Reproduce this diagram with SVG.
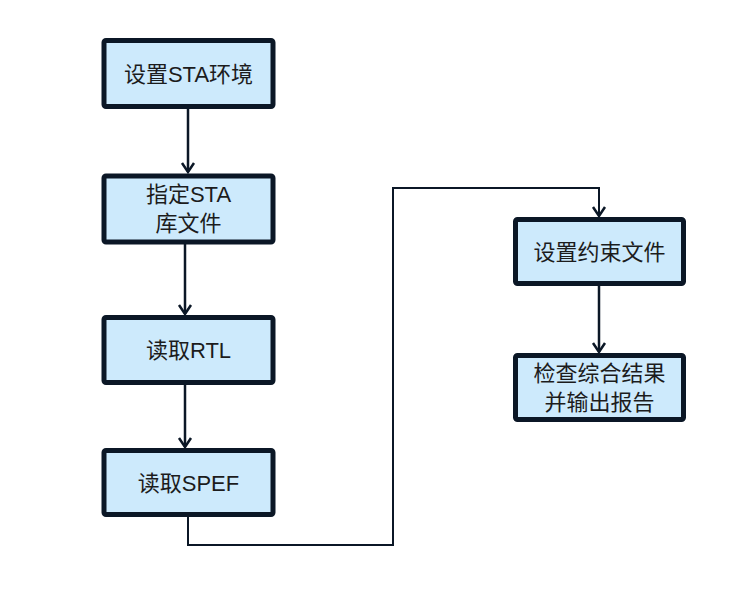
<svg xmlns="http://www.w3.org/2000/svg" width="740" height="610" viewBox="0 0 740 610">
<defs>
<style>
.node rect{fill:#cdeafc;stroke:#0b1726;stroke-width:5}
.node text{font-family:"Liberation Sans","Noto Sans CJK SC",sans-serif;font-size:22px;fill:#1c1c1c;text-anchor:middle}
.conn{fill:none;stroke:#0b1726;stroke-width:2.5}
.conn.thin{stroke-width:2}
</style>
<marker id="arr" viewBox="-1 -8 12 16" markerWidth="12" markerHeight="16" refX="9" refY="0" orient="auto" markerUnits="userSpaceOnUse">
<path d="M0,-6 L9,0 L0,6" fill="none" stroke="#0b1726" stroke-width="2.5"/>
</marker>
</defs>
<rect width="740" height="610" fill="#ffffff"/>
<g id="connectors">
<line class="conn" x1="188" y1="109" x2="188" y2="172" marker-end="url(#arr)"/>
<line class="conn" x1="185" y1="244" x2="185" y2="314" marker-end="url(#arr)"/>
<line class="conn" x1="185" y1="385" x2="185" y2="447" marker-end="url(#arr)"/>
<polyline class="conn thin" points="188,517 188,545 393,545 393,188 599,188 599,216" marker-end="url(#arr)"/>
<line class="conn" x1="599" y1="286" x2="599" y2="352" marker-end="url(#arr)"/>
</g>
<g id="n1" class="node">
<rect x="104" y="40.5" width="169" height="66" rx="2"/>
<text x="188.5" y="81.5">设置STA环境</text>
</g>
<g id="n2" class="node">
<rect x="104" y="176" width="169" height="66" rx="2"/>
<text x="188.5" y="202">指定STA</text>
<text x="188.5" y="231">库文件</text>
</g>
<g id="n3" class="node">
<rect x="104" y="317.5" width="169" height="65" rx="2"/>
<text x="188.5" y="358">读取RTL</text>
</g>
<g id="n4" class="node">
<rect x="104" y="450.5" width="169" height="64" rx="2"/>
<text x="188.5" y="490.5">读取SPEF</text>
</g>
<g id="n5" class="node">
<rect x="515.5" y="219.5" width="168" height="64" rx="2"/>
<text x="599.5" y="259.5">设置约束文件</text>
</g>
<g id="n6" class="node">
<rect x="515.5" y="355.5" width="168" height="64" rx="2"/>
<text x="599.5" y="381">检查综合结果</text>
<text x="599.5" y="410">并输出报告</text>
</g>
</svg>
